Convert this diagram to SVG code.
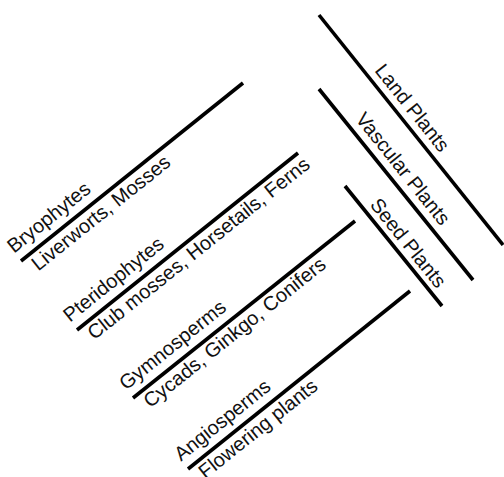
<svg xmlns="http://www.w3.org/2000/svg" width="504" height="477" viewBox="0 0 504 477">
<style>
.ln{stroke:#000;stroke-width:3.6;fill:none;stroke-linecap:butt}
.t{font-family:"Liberation Sans",Arial,sans-serif;font-size:20px;fill:#111}
</style>
<rect width="504" height="477" fill="#fff"/>
<g id="connectors">
<line class="ln" x1="21" y1="261" x2="243" y2="83"/>
<line class="ln" x1="77" y1="330" x2="298" y2="153"/>
<line class="ln" x1="133" y1="398" x2="355" y2="221"/>
<line class="ln" x1="188" y1="469" x2="410" y2="291"/>
<line class="ln" x1="319" y1="15" x2="503" y2="245"/>
<line class="ln" x1="319" y1="89" x2="473" y2="280"/>
<line class="ln" x1="345" y1="186" x2="442" y2="306"/>
</g>
<g id="bryophytes" transform="translate(21,261) rotate(-38.7)">
<text class="t" x="-1" y="-10">Bryophytes</text>
<text class="t" x="7" y="19">Liverworts, Mosses</text>
</g>
<g id="pteridophytes" transform="translate(77,330) rotate(-38.7)">
<text class="t" x="-1" y="-10">Pteridophytes</text>
<text class="t" x="7" y="19">Club mosses, Horsetails, Ferns</text>
</g>
<g id="gymnosperms" transform="translate(133,398) rotate(-38.7)">
<text class="t" x="-1" y="-10">Gymnosperms</text>
<text class="t" x="7" y="19">Cycads, Ginkgo, Conifers</text>
</g>
<g id="angiosperms" transform="translate(188,469) rotate(-38.7)">
<text class="t" x="-1" y="-10">Angiosperms</text>
<text class="t" x="7" y="19">Flowering plants</text>
</g>
<g id="land-plants" transform="translate(319,15) rotate(51.3)">
<text class="t" x="78" y="-8">Land Plants</text>
</g>
<g id="vascular-plants" transform="translate(319,89) rotate(51.3)">
<text class="t" x="46" y="-9">Vascular Plants</text>
</g>
<g id="seed-plants" transform="translate(345,186) rotate(51.3)">
<text class="t" x="30" y="-7">Seed Plants</text>
</g>
</svg>
